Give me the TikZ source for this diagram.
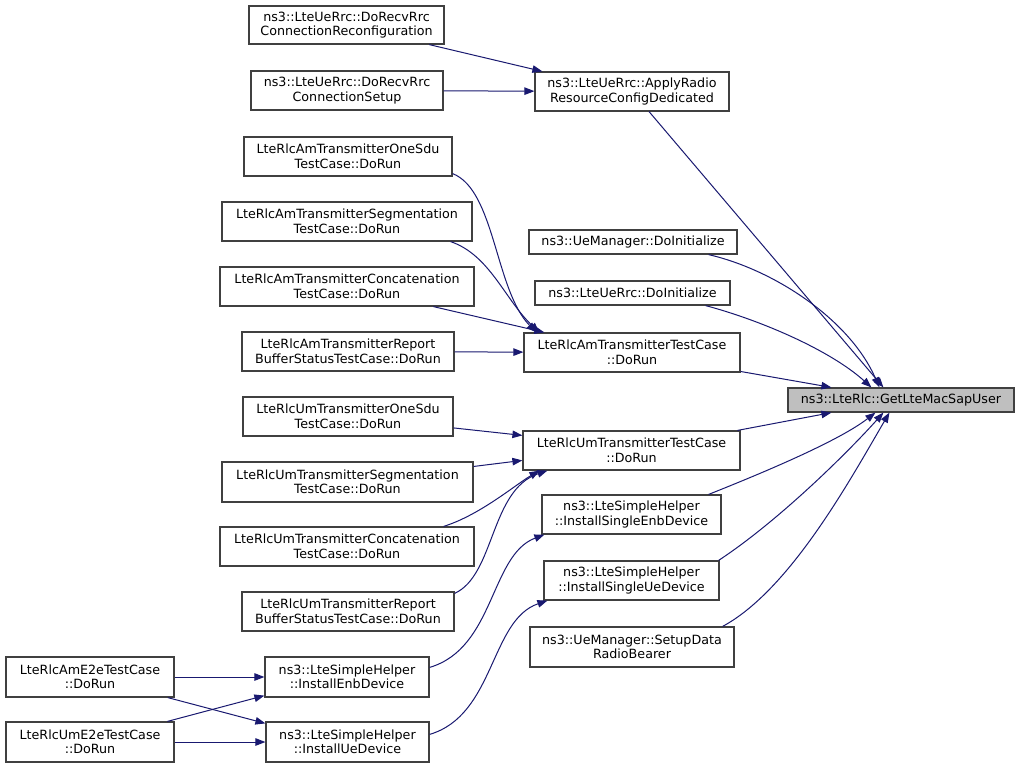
\documentclass[tikz,border=0pt]{standalone}
\usepackage{fontspec}
\setmainfont{DejaVu Sans}
\usetikzlibrary{arrows.meta}
\definecolor{edgeblue}{RGB}{25,25,112}
\definecolor{boxgray}{RGB}{191,191,191}
\definecolor{boxline}{RGB}{64,64,64}
\begin{document}
\begin{tikzpicture}[x=1pt,y=-1pt,
  box/.style={draw=boxline, line width=1.2pt, fill=white, align=center, inner sep=0pt, font=\fontsize{12.7}{14.5}\selectfont},
  hl/.style={box, fill=boxgray},
  edge/.style={draw=edgeblue, line width=1pt, -{Triangle[length=10pt,width=7.5pt]}}]
\useasboundingbox[fill=white] (0,0) rectangle (1019,769);

\node[box, minimum width=195pt, minimum height=38pt] (n1) at (346.5,25) {ns3::LteUeRrc::DoRecvRrc\\ConnectionReconfiguration};
\node[box, minimum width=192pt, minimum height=39pt] (n2) at (347,90.5) {ns3::LteUeRrc::DoRecvRrc\\ConnectionSetup};
\node[box, minimum width=194pt, minimum height=39pt] (n3) at (632,91.5) {ns3::LteUeRrc::ApplyRadio\\ResourceConfigDedicated};
\node[box, minimum width=208pt, minimum height=39pt] (n4) at (348,156.5) {LteRlcAmTransmitterOneSdu\\TestCase::DoRun};
\node[box, minimum width=250pt, minimum height=39pt] (n5) at (347,221.5) {LteRlcAmTransmitterSegmentation\\TestCase::DoRun};
\node[box, minimum width=254pt, minimum height=39pt] (n6) at (347,286.5) {LteRlcAmTransmitterConcatenation\\TestCase::DoRun};
\node[box, minimum width=212pt, minimum height=39pt] (n7) at (348,351.5) {LteRlcAmTransmitterReport\\BufferStatusTestCase::DoRun};
\node[box, minimum width=208pt, minimum height=24pt] (n8) at (633,242) {ns3::UeManager::DoInitialize};
\node[box, minimum width=195pt, minimum height=24pt] (n9) at (632.5,293) {ns3::LteUeRrc::DoInitialize};
\node[box, minimum width=216pt, minimum height=39pt] (n10) at (632,352.5) {LteRlcAmTransmitterTestCase\\::DoRun};
\node[hl, minimum width=226pt, minimum height=24pt] (n11) at (901,400) {ns3::LteRlc::GetLteMacSapUser};
\node[box, minimum width=210pt, minimum height=39pt] (n12) at (348,416.5) {LteRlcUmTransmitterOneSdu\\TestCase::DoRun};
\node[box, minimum width=251pt, minimum height=40pt] (n13) at (347.5,482) {LteRlcUmTransmitterSegmentation\\TestCase::DoRun};
\node[box, minimum width=254pt, minimum height=39pt] (n14) at (347,546.5) {LteRlcUmTransmitterConcatenation\\TestCase::DoRun};
\node[box, minimum width=212pt, minimum height=39pt] (n15) at (348,611.5) {LteRlcUmTransmitterReport\\BufferStatusTestCase::DoRun};
\node[box, minimum width=217pt, minimum height=39pt] (n16) at (631.5,450.5) {LteRlcUmTransmitterTestCase\\::DoRun};
\node[box, minimum width=179pt, minimum height=39pt] (n17) at (631.5,514.5) {ns3::LteSimpleHelper\\::InstallSingleEnbDevice};
\node[box, minimum width=175pt, minimum height=39pt] (n18) at (631.5,580.5) {ns3::LteSimpleHelper\\::InstallSingleUeDevice};
\node[box, minimum width=204pt, minimum height=40pt] (n19) at (632,647) {ns3::UeManager::SetupData\\RadioBearer};
\node[box, minimum width=168pt, minimum height=40pt] (n20) at (90,677) {LteRlcAmE2eTestCase\\::DoRun};
\node[box, minimum width=164pt, minimum height=40pt] (n21) at (347,677) {ns3::LteSimpleHelper\\::InstallEnbDevice};
\node[box, minimum width=168pt, minimum height=40pt] (n22) at (90,742) {LteRlcUmE2eTestCase\\::DoRun};
\node[box, minimum width=163pt, minimum height=40pt] (n23) at (347.5,742) {ns3::LteSimpleHelper\\::InstallUeDevice};

% edges into ApplyRadio
\draw[edge] (n1) -- ([xshift=8pt]n3.north west);
\draw[edge] (n2) -- (n3);
% edges into GetLteMacSapUser
\draw[edge] (n3) -- ([xshift=96pt]n11.north west);
\draw[edge] ([xshift=-29pt]n8.south east) .. controls (775,270) and (850,320) .. ([xshift=92pt]n11.north west);
\draw[edge] ([xshift=-25pt]n9.south east) .. controls (760,320) and (830,350) .. ([xshift=84pt]n11.north west);
\draw[edge] (n10) -- ([xshift=44pt]n11.north west);
\draw[edge] (n16) -- ([xshift=44pt]n11.south west);
\draw[edge] ([xshift=-13pt]n17.north east) .. controls (770,470) and (840,440) .. ([xshift=88pt]n11.south west);
\draw[edge] ([xshift=-1pt]n18.north east) .. controls (780,520) and (850,450) .. ([xshift=96pt]n11.south west);
\draw[edge] ([xshift=-12pt]n19.north east) .. controls (790,590) and (850,480) .. ([xshift=102pt]n11.south west);
% edges into AmTransmitterTestCase
\draw[edge] ([yshift=3pt]n4.south east) .. controls (495,190) and (495,290) .. ([xshift=13pt]n10.north west);
\draw[edge] ([xshift=-22pt]n5.south east) .. controls (490,255) and (505,300) .. ([xshift=16pt]n10.north west);
\draw[edge] (n6) -- ([xshift=21pt]n10.north west);
\draw[edge] (n7) -- (n10);
% edges into UmTransmitterTestCase
\draw[edge] (n12) -- ([yshift=-5pt]n16.north west);
\draw[edge] (n13) -- ([yshift=-30pt]n16.north west);
\draw[edge] ([xshift=-31pt]n14.north east) .. controls (480,515) and (515,485) .. ([xshift=17pt]n16.south west);
\draw[edge] ([yshift=-2pt]n15.north east) .. controls (495,575) and (490,490) .. ([xshift=25pt]n16.south west);
% helper edges
\draw[edge] ([yshift=-11pt]n21.north east) .. controls (495,648) and (490,555) .. ([xshift=3pt]n17.south west);
\draw[edge] ([yshift=-13pt]n23.north east) .. controls (495,715) and (490,620) .. ([xshift=4pt]n18.south west);
% e2e edges
\draw[edge] (n20) -- (n21);
\draw[edge] (n20) -- ([yshift=-2pt]n23.north west);
\draw[edge] (n22) -- ([yshift=2pt]n21.south west);
\draw[edge] (n22) -- (n23);
\end{tikzpicture}
\end{document}
